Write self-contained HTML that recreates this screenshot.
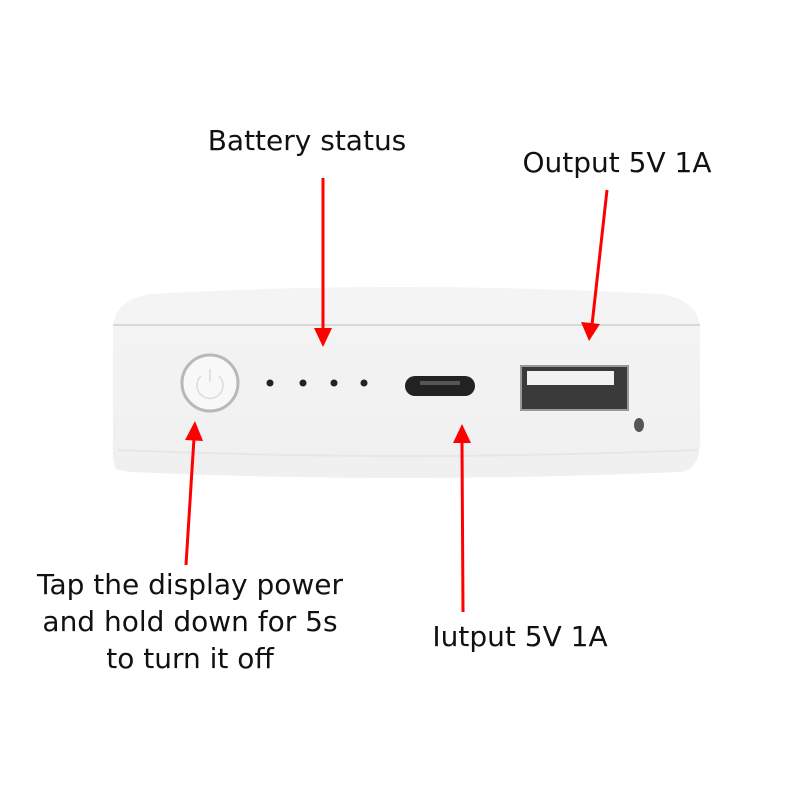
<!DOCTYPE html>
<html><head><style>
body{margin:0;background:#fff;width:800px;height:800px;overflow:hidden;position:relative;font-family:"DejaVu Sans","Liberation Sans",sans-serif;}
.t{position:absolute;color:#111;font-size:28px;text-align:center;white-space:nowrap;}
</style></head><body>
<svg width="800" height="800" style="position:absolute;left:0;top:0">
<defs>
<linearGradient id="b" x1="0" y1="0" x2="0" y2="1"><stop offset="0" stop-color="#f4f4f4"/><stop offset="1" stop-color="#f0f0f0"/></linearGradient>
</defs>
<path d="M118 470 Q112 470 113 440 L113 330 Q113 300 150 294 Q400 280 660 294 Q700 300 700 330 L700 440 Q700 470 680 472 Q400 484 130 472 Z" fill="url(#b)"/>
<path d="M113 325 L700 325" stroke="#d8d8d8" stroke-width="2"/>
<path d="M118 450 Q400 462 698 450" stroke="#e6e6e6" stroke-width="2" fill="none"/>
<circle cx="210" cy="383" r="28" fill="#f8f8f8" stroke="#b8b8b8" stroke-width="3"/>
<path d="M201 376 A13 13 0 1 0 219 376" stroke="#dcdcdc" stroke-width="1.5" fill="none"/>
<line x1="210" y1="369" x2="210" y2="382" stroke="#dcdcdc" stroke-width="1.5"/>
<circle cx="270" cy="383" r="3.5" fill="#222"/><circle cx="303" cy="383" r="3.5" fill="#222"/><circle cx="334" cy="383" r="3.5" fill="#222"/><circle cx="364" cy="383" r="3.5" fill="#222"/>
<rect x="405" y="376" width="70" height="20" rx="10" fill="#222"/>
<rect x="420" y="381" width="40" height="4" fill="#555"/>
<rect x="521" y="366" width="107" height="44" fill="#3a3a3a" stroke="#999" stroke-width="2"/>
<rect x="527" y="371" width="87" height="14" fill="#f2f2f2"/>
<ellipse cx="639" cy="425" rx="5" ry="7" fill="#555"/>
<g stroke="#f00" stroke-width="3" fill="#f00">
<line x1="323" y1="178" x2="323" y2="330"/><polygon points="314,328 332,328 323,347" stroke="none"/>
<line x1="607" y1="190" x2="592" y2="325"/><polygon points="581,322 600,324 589,341" stroke="none"/>
<line x1="186" y1="565" x2="194" y2="438"/><polygon points="185,440 203,441 195,421" stroke="none"/>
<line x1="463" y1="612" x2="462" y2="442"/><polygon points="453,443 471,443 462,424" stroke="none"/>
</g>
</svg>
<div class="t" style="left:207px;top:124px;width:200px">Battery status</div>
<div class="t" style="left:517px;top:146px;width:200px">Output 5V 1A</div>
<div class="t" style="left:20px;top:566px;width:340px;line-height:37px">Tap the display power<br>and hold down for 5s<br>to turn it off</div>
<div class="t" style="left:420px;top:620px;width:200px">Iutput 5V 1A</div>
</body></html>
